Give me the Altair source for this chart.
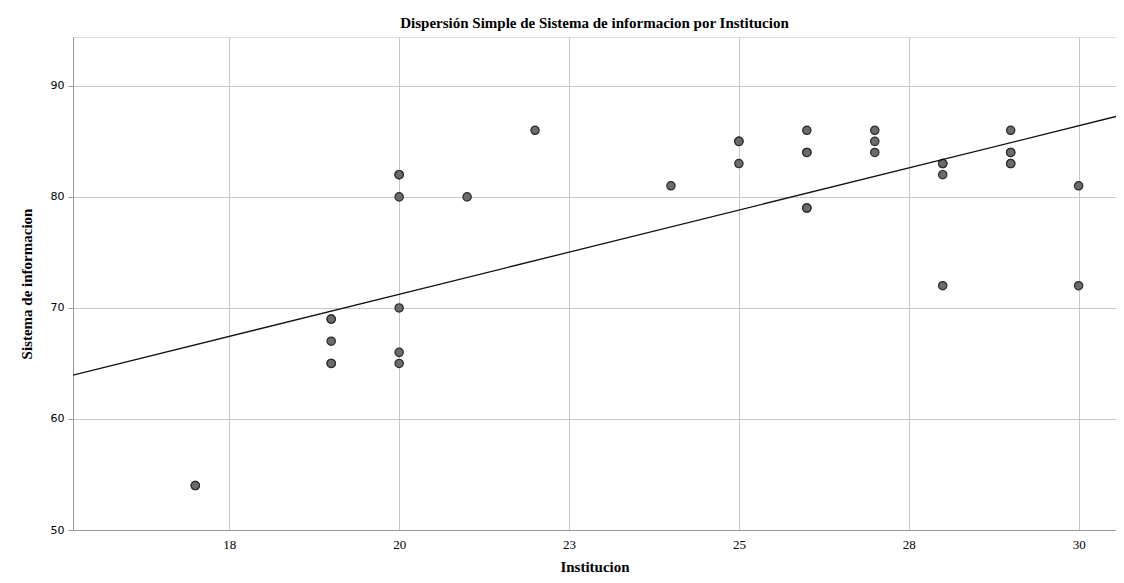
import altair as alt
import pandas as pd

institucion = [17, 17, 19, 19, 19, 19, 19, 20, 20, 20, 20, 20, 20, 21, 22, 24,
               25, 25, 25, 26, 26, 26, 26, 26, 27, 27, 27, 28, 28, 28, 28,
               29, 29, 29, 29, 29, 30, 30]
sistema = [54, 54, 69, 69, 67, 65, 65, 82, 82, 80, 70, 66, 65, 80, 86, 81,
           85, 85, 83, 86, 84, 84, 79, 79, 86, 85, 84, 83, 83, 82, 72,
           86, 84, 84, 83, 83, 81, 72]
x_ticks = [17.5, 20, 22.5, 25, 27.5, 30]
y_ticks = [50, 60, 70, 80, 90]
x_domain = [15.2, 30.55]
y_domain = [50, 94.4]

df = pd.DataFrame({"Institucion": institucion, "Sistema": sistema})

xenc = alt.X("Institucion:Q", scale=alt.Scale(domain=x_domain, nice=False, zero=False),
             axis=alt.Axis(values=x_ticks, format=".0f", title="Institucion",
                           labelFont="Liberation Serif", labelFontSize=13,
                           titleFont="Liberation Serif", titleFontSize=15,
                           titleFontWeight="bold", titlePadding=8, labelPadding=8,
                           tickSize=0, gridColor="#c8c8c8", domainColor="#999999"))
yenc = alt.Y("Sistema:Q", scale=alt.Scale(domain=y_domain, nice=False, zero=False),
             axis=alt.Axis(values=y_ticks, title="Sistema de informacion",
                           labelFont="DejaVu Sans", labelFontSize=11,
                           titleFont="Liberation Serif", titleFontSize=15,
                           titleFontWeight="bold", titlePadding=16, labelPadding=4,
                           tickSize=5, tickColor="#999999",
                           gridColor="#c8c8c8", domainColor="#999999"))

points = alt.Chart(df).mark_circle(size=70, opacity=1, color="#6b6b6b",
                                   stroke="#2b2b2b", strokeWidth=1.2).encode(x=xenc, y=yenc)

line = alt.Chart(df).transform_regression(
    "Institucion", "Sistema", extent=x_domain
).mark_line(color="#111111", strokeWidth=1.3, clip=True).encode(
    x=alt.X("Institucion:Q"), y=alt.Y("Sistema:Q"))

chart = alt.layer(points, line).properties(
    width=1043, height=493,
    title=alt.TitleParams("Dispersión Simple de Sistema de informacion por Institucion",
                          font="Liberation Serif", fontSize=15, fontWeight="bold",
                          anchor="middle", offset=6),
    autosize=alt.AutoSizeParams(type="none"),
    padding={"left": 65, "top": 29, "right": 0, "bottom": 45},
).configure_view(stroke=None).configure(background="white")

chart.save("out.html", embed_options={"renderer": "svg", "actions": False})
